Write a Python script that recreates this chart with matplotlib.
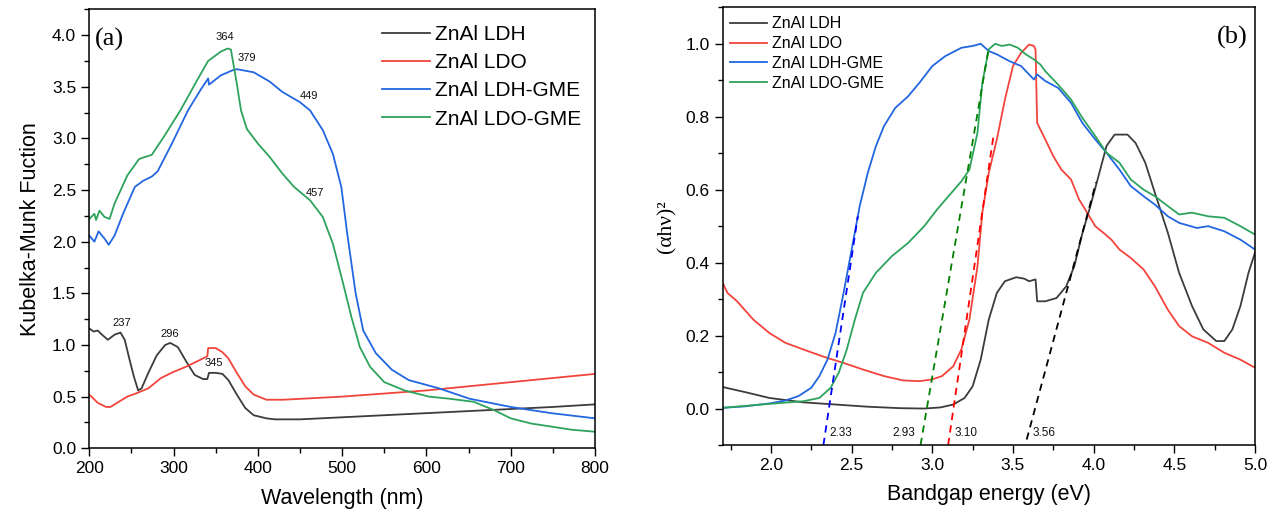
import matplotlib
matplotlib.use("Agg")
import matplotlib.pyplot as plt
from matplotlib.ticker import MultipleLocator

plt.rcParams['font.family'] = ['Liberation Sans', 'DejaVu Sans']

# ---------------- Panel (a): Kubelka-Munk ----------------
series_names = ["ZnAl LDH", "ZnAl LDO", "ZnAl LDH-GME", "ZnAl LDO-GME"]

wl_ldh = [200, 205, 210, 215, 222, 230, 237, 242, 248, 253, 258, 262, 270, 280, 290, 296,
          305, 315, 325, 335, 340, 342, 350, 358, 365, 375, 385, 395, 410, 420, 450, 500,
          550, 600, 650, 700, 750, 800]
km_ldh = [1.16, 1.13, 1.14, 1.10, 1.05, 1.10, 1.12, 1.05, 0.85, 0.69, 0.56, 0.58, 0.73, 0.90,
          1.00, 1.02, 0.98, 0.84, 0.71, 0.67, 0.67, 0.73, 0.73, 0.72, 0.66, 0.52, 0.39, 0.32,
          0.29, 0.28, 0.28, 0.30, 0.32, 0.34, 0.36, 0.38, 0.40, 0.425]

wl_ldo = [200, 210, 220, 225, 235, 245, 255, 270, 285, 300, 315, 330, 340, 341, 350, 358, 365,
          375, 385, 395, 410, 430, 500, 600, 700, 800]
km_ldo = [0.52, 0.44, 0.40, 0.40, 0.45, 0.50, 0.53, 0.58, 0.68, 0.74, 0.79, 0.85, 0.89, 0.97,
          0.97, 0.93, 0.87, 0.73, 0.60, 0.52, 0.47, 0.47, 0.50, 0.56, 0.64, 0.72]

wl_ldh_gme = [200, 206, 211, 218, 223, 230, 240, 254, 264, 274, 281, 298, 317, 332, 341, 342,
              356, 370, 375, 395, 414, 429, 450, 462, 477, 489, 499, 506, 516, 525, 540, 559,
              579, 615, 651, 700, 748, 800]
km_ldh_gme = [2.06, 2.00, 2.10, 2.03, 1.97, 2.06, 2.27, 2.53, 2.59, 2.63, 2.68, 2.95, 3.27,
              3.47, 3.58, 3.52, 3.61, 3.66, 3.67, 3.64, 3.55, 3.45, 3.35, 3.27, 3.08, 2.85,
              2.53, 2.08, 1.50, 1.14, 0.92, 0.76, 0.66, 0.58, 0.48, 0.40, 0.34, 0.29]

wl_ldo_gme = [200, 206, 208, 212, 218, 224, 230, 245, 259, 266, 274, 288, 308, 327, 341, 356,
              364, 368, 375, 380, 387, 400, 414, 429, 443, 462, 477, 489, 501, 511, 521, 533,
              550, 574, 603, 627, 656, 680, 700, 724, 748, 772, 800]
km_ldo_gme = [2.22, 2.27, 2.21, 2.30, 2.24, 2.22, 2.37, 2.64, 2.80, 2.82, 2.84, 3.01, 3.27,
              3.55, 3.75, 3.84, 3.87, 3.86, 3.53, 3.27, 3.09, 2.95, 2.82, 2.66, 2.53, 2.40,
              2.24, 1.98, 1.60, 1.27, 0.98, 0.79, 0.64, 0.56, 0.50, 0.48, 0.45, 0.37, 0.29,
              0.24, 0.21, 0.18, 0.16]

peak_labels_a = ["364", "379", "449", "457", "237", "296", "345"]
peak_x_a = [361, 387, 460.6, 467.7, 238.8, 295.7, 348]
peak_y_a = [3.98, 3.78, 3.41, 2.47, 1.21, 1.11, 0.83]

# ---------------- Panel (b): Tauc ----------------
ev_ldh = [1.70, 1.84, 1.99, 2.20, 2.40, 2.60, 2.80, 2.95, 3.05, 3.13, 3.20, 3.25, 3.30, 3.35,
          3.40, 3.45, 3.52, 3.57, 3.60, 3.64, 3.65, 3.70, 3.77, 3.83, 3.88, 3.93, 3.98, 4.03,
          4.08, 4.13, 4.21, 4.26, 4.32, 4.38, 4.46, 4.53, 4.61, 4.68, 4.76, 4.81, 4.86, 4.91,
          4.96, 5.00]
ah_ldh = [0.059, 0.045, 0.029, 0.017, 0.011, 0.005, 0.001, 0.0, 0.003, 0.011, 0.029, 0.061,
          0.134, 0.244, 0.317, 0.349, 0.360, 0.356, 0.349, 0.354, 0.294, 0.294, 0.303, 0.335,
          0.39, 0.48, 0.555, 0.637, 0.72, 0.751, 0.751, 0.728, 0.674, 0.591, 0.482, 0.372,
          0.281, 0.217, 0.185, 0.185, 0.217, 0.281, 0.372, 0.427]

ev_ldo = [1.70, 1.73, 1.79, 1.89, 1.99, 2.09, 2.20, 2.32, 2.45, 2.57, 2.70, 2.82, 2.92, 3.00,
          3.06, 3.13, 3.18, 3.23, 3.28, 3.31, 3.35, 3.40, 3.45, 3.50, 3.55, 3.60, 3.63, 3.64,
          3.65, 3.70, 3.75, 3.80, 3.86, 3.91, 3.96, 4.01, 4.06, 4.11, 4.16, 4.23, 4.31, 4.38,
          4.46, 4.53, 4.61, 4.71, 4.81, 4.91, 5.00]
ah_ldo = [0.345, 0.317, 0.294, 0.244, 0.207, 0.180, 0.162, 0.143, 0.125, 0.107, 0.089, 0.077,
          0.075, 0.080, 0.089, 0.116, 0.162, 0.244, 0.39, 0.537, 0.646, 0.738, 0.847, 0.939,
          0.975, 0.998, 0.994, 0.984, 0.783, 0.738, 0.692, 0.655, 0.628, 0.573, 0.537, 0.50,
          0.482, 0.463, 0.436, 0.413, 0.381, 0.335, 0.271, 0.226, 0.198, 0.180, 0.153, 0.134,
          0.112]

ev_ldh_gme = [1.70, 1.84, 1.99, 2.09, 2.17, 2.25, 2.30, 2.35, 2.40, 2.45, 2.50, 2.55, 2.60,
              2.65, 2.70, 2.77, 2.85, 2.92, 3.00, 3.08, 3.18, 3.25, 3.30, 3.35, 3.40, 3.48,
              3.55, 3.63, 3.65, 3.70, 3.78, 3.86, 3.93, 4.01, 4.08, 4.16, 4.23, 4.31, 4.38,
              4.46, 4.53, 4.64, 4.71, 4.81, 4.91, 5.00]
ah_ldh_gme = [0.002, 0.006, 0.014, 0.022, 0.034, 0.057, 0.089, 0.134, 0.207, 0.317, 0.436,
              0.555, 0.646, 0.719, 0.774, 0.824, 0.856, 0.893, 0.939, 0.966, 0.989, 0.994,
              1.0, 0.98, 0.971, 0.952, 0.939, 0.902, 0.916, 0.898, 0.879, 0.838, 0.783,
              0.738, 0.701, 0.655, 0.61, 0.582, 0.559, 0.527, 0.509, 0.495, 0.50, 0.486,
              0.463, 0.436]

ev_ldo_gme = [1.70, 1.94, 2.20, 2.30, 2.37, 2.42, 2.47, 2.52, 2.57, 2.65, 2.75, 2.85, 2.95,
              3.03, 3.10, 3.18, 3.23, 3.28, 3.31, 3.35, 3.39, 3.43, 3.48, 3.53, 3.58, 3.63,
              3.67, 3.70, 3.78, 3.86, 3.93, 4.01, 4.08, 4.16, 4.23, 4.31, 4.38, 4.46, 4.53,
              4.61, 4.71, 4.81, 4.91, 5.00]
ah_ldo_gme = [0.002, 0.011, 0.020, 0.029, 0.057, 0.098, 0.162, 0.244, 0.317, 0.372, 0.418,
              0.454, 0.50, 0.546, 0.582, 0.623, 0.655, 0.756, 0.893, 0.985, 1.0, 0.994,
              0.998, 0.989, 0.971, 0.957, 0.943, 0.925, 0.888, 0.847, 0.797, 0.747, 0.701,
              0.674, 0.628, 0.60, 0.582, 0.555, 0.532, 0.537, 0.527, 0.523, 0.50, 0.477]

# Tangent (extrapolation) lines: start / end points
tan_x0 = [2.325, 2.927, 3.098, 3.585]
tan_y0 = [-0.1, -0.1, -0.1, -0.085]
tan_x1 = [2.538, 3.35, 3.38, 4.015]
tan_y1 = [0.527, 0.989, 0.75, 0.62]
tan_colors = ["#0000ff", "#008000", "#ff0000", "#000000"]
gap_labels = ["2.33", "2.93", "3.10", "3.56"]
gap_label_x = [2.365, 2.751, 3.14, 3.621]
gap_label_y = -0.067

colors = ["#3c3c3c", "#f2443c", "#2266e0", "#2ea35c"]

fig = plt.figure(figsize=(12.76, 5.18), dpi=100)
axa = fig.add_axes([0.0700, 0.1346, 0.3963, 0.8475])
axb = fig.add_axes([0.5663, 0.1409, 0.4172, 0.8450])

lw = 1.3
for xs, ys, c, n in zip([wl_ldh, wl_ldo, wl_ldh_gme, wl_ldo_gme],
                        [km_ldh, km_ldo, km_ldh_gme, km_ldo_gme], colors, series_names):
    axa.plot(xs, ys, color=c, lw=lw, label=n)

for t, x, y in zip(peak_labels_a, peak_x_a, peak_y_a):
    axa.text(x, y, t, fontsize=8, ha='center', va='center', color='#111111')

axa.set_xlim(200, 800)
axa.set_ylim(0, 4.25)
axa.xaxis.set_major_locator(MultipleLocator(100))
axa.xaxis.set_minor_locator(MultipleLocator(50))
axa.yaxis.set_major_locator(MultipleLocator(0.5))
axa.yaxis.set_minor_locator(MultipleLocator(0.25))
axa.set_xlabel("Wavelength (nm)", fontsize=15.5, labelpad=8)
axa.set_ylabel("Kubelka-Munk Fuction", fontsize=15.5, labelpad=8)
axa.text(0.011, 0.932, "(a)", transform=axa.transAxes, fontsize=19,
         family=['Liberation Serif'], ha='left', va='center')
axa.legend(loc='upper left', bbox_to_anchor=(0.579, 0.964), frameon=False, fontsize=15,
           handlelength=2.3, handletextpad=0.25, labelspacing=0.44, borderpad=0,
           borderaxespad=0)

for xs, ys, c, n in zip([ev_ldh, ev_ldo, ev_ldh_gme, ev_ldo_gme],
                        [ah_ldh, ah_ldo, ah_ldh_gme, ah_ldo_gme], colors, series_names):
    axb.plot(xs, ys, color=c, lw=lw, label=n)

for x0, y0, x1, y1, c in zip(tan_x0, tan_y0, tan_x1, tan_y1, tan_colors):
    axb.plot([x0, x1], [y0, y1], color=c, lw=1.3, ls=(0, (4, 3)))

for t, x in zip(gap_labels, gap_label_x):
    axb.text(x, gap_label_y, t, fontsize=8.5, ha='left', va='center', color='#111111')

axb.set_xlim(1.7, 5.0)
axb.set_ylim(-0.1, 1.1)
axb.xaxis.set_major_locator(MultipleLocator(0.5))
axb.xaxis.set_minor_locator(MultipleLocator(0.25))
axb.yaxis.set_major_locator(MultipleLocator(0.2))
axb.yaxis.set_minor_locator(MultipleLocator(0.1))
axb.set_xlabel("Bandgap energy (eV)", fontsize=15.5, labelpad=8)
axb.set_ylabel("(αhν)²", fontsize=15.5, family=['Liberation Serif'], labelpad=6)
axb.text(0.987, 0.932, "(b)", transform=axb.transAxes, fontsize=19,
         family=['Liberation Serif'], ha='right', va='center')
axb.legend(loc='upper left', bbox_to_anchor=(0.014, 0.979), frameon=False, fontsize=11.5,
           handlelength=2.3, handletextpad=0.34, labelspacing=0.3, borderpad=0,
           borderaxespad=0)

for ax in (axa, axb):
    ax.tick_params(which='major', direction='out', length=6, width=1, labelsize=12.5)
    ax.tick_params(which='minor', direction='out', length=3.5, width=1)
    for s in ax.spines.values():
        s.set_linewidth(1.1)

fig.savefig("out.png", dpi=100)
